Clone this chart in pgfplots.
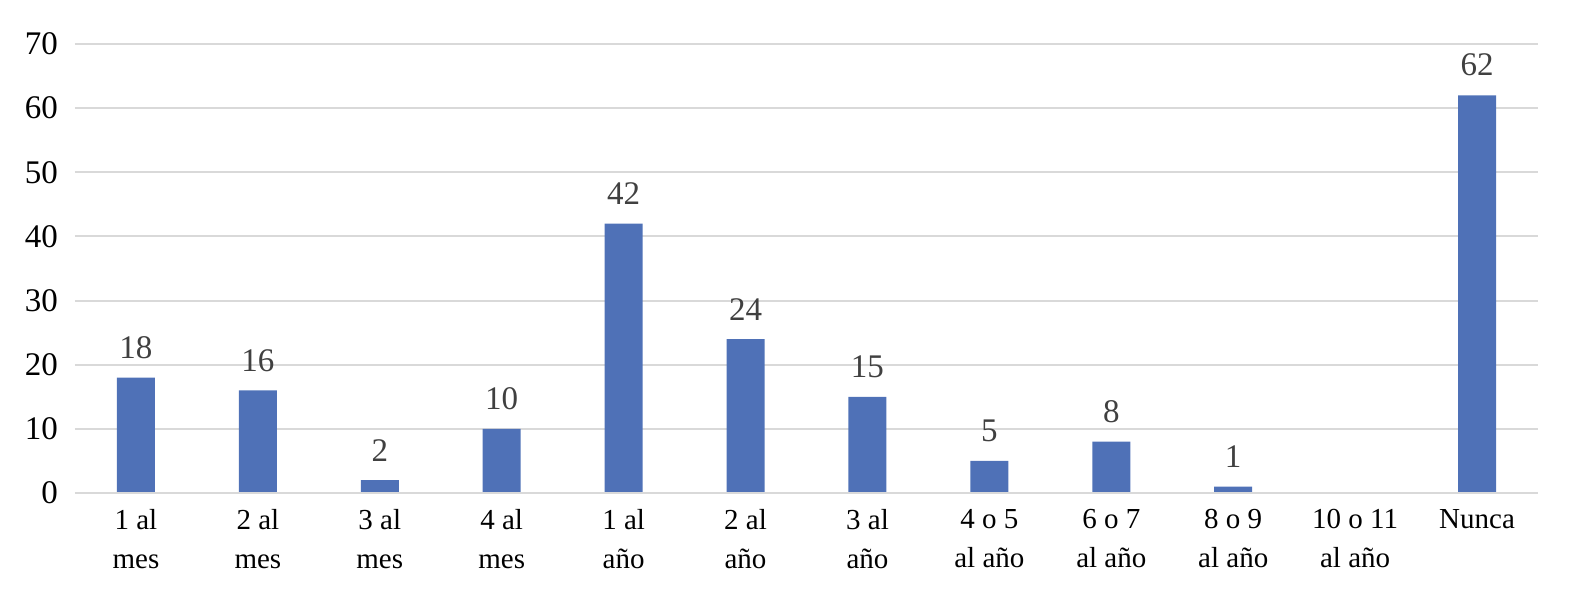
\documentclass[border=0pt]{standalone}
\usepackage{pgfplots}
\pgfplotsset{compat=1.18}
\usepackage{fontspec}
\setmainfont{Liberation Serif}
\definecolor{barblue}{HTML}{4F71B7}
\definecolor{gridgray}{HTML}{D9D9D9}
\definecolor{labelgray}{HTML}{404040}
\begin{document}
\begin{tikzpicture}
\begin{axis}[
    scale only axis,
    width=731.5bp, height=224.5bp,
    xmin=-0.5, xmax=11.5,
    ymin=0, ymax=70,
    ytick={0,10,...,70},
    xtick={0,...,11},
    xticklabels={{1 al\\mes},{2 al\\mes},{3 al\\mes},{4 al\\mes},{1 al\\año},{2 al\\año},{3 al\\año},{4 o 5\\al año},{6 o 7\\al año},{8 o 9\\al año},{10 o 11\\al año},{Nunca}},
    xticklabel style={align=center, font=\fontsize{14.5bp}{19.5bp}\selectfont, anchor=north, yshift=-4.5bp},
    yticklabel style={font=\fontsize{16.5bp}{19bp}\selectfont, xshift=-5bp},
    /pgf/number format/assume math mode=true,
    major tick length=0pt,
    axis line style={draw=none},
    axis x line*=bottom,
    ymajorgrids,
    grid style={gridgray, line width=1bp},
    ybar, bar width=19bp,
    nodes near coords,
    every node near coord/.append style={font=\fontsize{16.5bp}{19bp}\selectfont, text=labelgray, yshift=6bp},
    clip=false,
]
\addplot[fill=barblue, draw=none] coordinates {
    (0,18) (1,16) (2,2) (3,10) (4,42) (5,24) (6,15) (7,5) (8,8) (9,1) (11,62)
};
\draw[gridgray, line width=1bp] (axis cs:-0.5,0) -- (axis cs:11.5,0);
\end{axis}
\useasboundingbox (current axis.south west) ++(-37.5bp,-52.5bp) rectangle ([xshift=16bp,yshift=22bp]current axis.north east);
\end{tikzpicture}
\end{document}
